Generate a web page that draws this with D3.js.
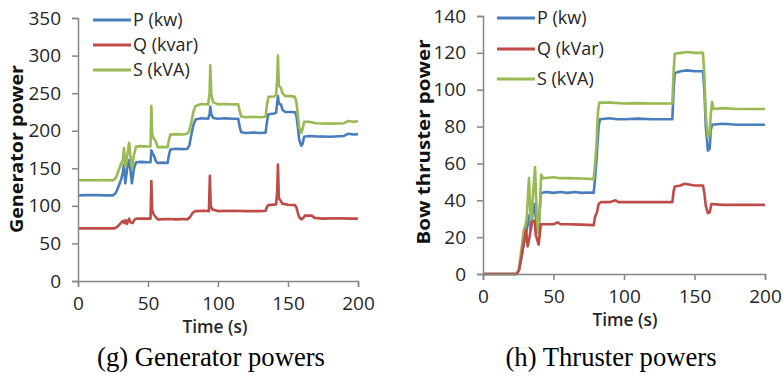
<!DOCTYPE html>
<html><head><meta charset="utf-8">
<script src="https://cdn.jsdelivr.net/npm/d3@7"></script>
<style>
html,body{margin:0;padding:0;background:#fff;}
svg{display:block;}
</style></head>
<body>
<svg id="c" width="783" height="377"></svg>
<script>
// ---------- DATA ----------
const xTicks = [0, 50, 100, 150, 200];
const genYTicks = [0, 50, 100, 150, 200, 250, 300, 350];
const thrYTicks = [0, 20, 40, 60, 80, 100, 120, 140];
const genLegend = ["P (kw)", "Q (kvar)", "S (kVA)"];
const thrLegend = ["P (kw)", "Q (kVar)", "S (kVA)"];

// [time (s), value]
const genP = [[0,114],[10,114.5],[20,114],[25,114],[27,117],[29,126],[31,136],[32,145],[32.8,155],[33.8,130],[35,148],[36.5,161],[37.5,148],[38.5,130],[40,150],[41.5,158],[45,158.5],[50,158],[51.8,158],[52.4,174],[53.2,170],[54.5,166],[55.5,160],[57,157],[60,157.5],[64,157],[65,168],[66,175],[70,176],[75,175.5],[78,176],[79.5,180],[81,195],[82.5,208],[84,215],[88,216.5],[93,216],[94,222],[94.5,232],[95.2,222],[96.5,217],[100,216],[105,216.5],[110,216],[114.5,216],[115.5,205],[116.5,198],[120,197],[125,197.5],[130,197],[134,197.5],[135,212],[136,222],[140,223],[141.5,224],[142.3,238],[142.8,246],[143.5,236],[145,235],[146,228],[148,225],[152,225],[155,224.5],[156,220],[157,205],[158,188],[159.5,180],[160.5,183],[161.5,192],[165,193],[170,192.5],[180,192],[190,193],[193,196],[197,195],[200,195.5]];
const genQ = [[0,70],[10,70],[20,70],[26,70],[28,72],[30,76],[32,80],[33,77],[34,81],[35,76],[36.5,83],[37.5,78],[39,77],[40.5,82],[42,83],[50,83],[51.8,83],[52.4,133],[53,95],[54,89],[55.5,85],[57,82],[65,82.5],[70,82],[75,82.5],[78,82],[80,85],[82,91],[84,93],[90,93.5],[93.5,93],[94.2,140],[94.8,100],[96,95],[100,93],[110,93.5],[120,93],[130,93],[134,93.5],[135,99],[136,101],[141.5,102],[142.3,120],[142.8,155],[143.5,110],[145,106],[146,103],[150,101.5],[155,101],[156,98],[157,91],[158,85],[159.5,82],[161,84],[162,87],[167,87],[169,84],[175,83],[185,83.5],[195,83],[200,83]];
const genS = [[0,134],[10,134],[20,134.5],[25,134],[27,137],[29,147],[31,157],[32,160],[32.8,177],[33.8,153],[35,165],[36.5,184],[37.5,165],[38.5,150],[40,168],[41.5,179],[45,179.5],[50,179],[51.8,179],[52.4,233],[53,195],[54,190],[55.5,186],[57,178],[60,178.5],[64,178],[65,188],[66,195],[70,195.5],[75,195],[78,196],[79.5,200],[81,212],[82.5,226],[84,233],[88,235.5],[93,235],[94,250],[94.5,287],[95.2,248],[96.5,238],[100,235],[105,235.5],[110,235],[114.5,235],[115.5,226],[116.5,219],[120,218],[125,218.5],[130,218],[134,218.5],[135,235],[136,245],[140,245.5],[141.5,248],[142.3,270],[142.8,300],[143.5,260],[145,257],[146,250],[148,246],[152,246],[155,245],[156,238],[157,222],[158,204],[159.5,197],[160.5,203],[161.5,212],[165,212],[170,210],[180,209.5],[190,210],[193,213],[197,212],[200,212.5]];

const thrP = [[0,0],[10,0],[20,0],[23.9,0],[25.5,2],[27,8],[29,17],[30.5,22],[32,28],[33,32],[34,24],[35.5,36],[36.5,38],[37.5,30],[39.5,24],[41,44],[45,44.5],[50,44],[55,44.5],[60,44],[65,44.5],[70,44],[75,44.2],[78.5,44],[79.5,52],[80.5,62],[81,68],[82,80],[83,84],[90,84.5],[95,84],[100,84],[110,84.3],[120,84],[130,84],[134.3,84],[135.2,100],[136,109],[140,110],[145,110.5],[150,110],[156,110],[157,100],[158,80],[159.5,67],[160.8,68],[161.5,78],[162.5,81],[170,81.5],[180,81],[190,81],[200,81]];
const thrQ = [[0,0],[20,0],[23.9,0],[25.5,2],[27,8],[29,17],[30.5,24],[31.7,15],[33,20],[34.5,28],[36.5,29],[37.5,21],[39.5,16],[41,27],[45,27],[50,27],[53,28],[55,27],[60,27],[70,26.8],[78.5,26.5],[79.5,31],[81,34],[82,38],[83.5,39],[90,39],[94,40],[96,39],[110,39],[120,39],[134.3,39],[135.2,45],[136,47.5],[140,48],[143,49],[150,48],[156,48],[157,44],[158,37],[159.5,33],[160.8,33.5],[162,38],[170,37.5],[180,37.5],[190,37.5],[200,37.5]];
const thrS = [[0,0],[20,0],[23.9,0],[25.5,3],[27,12],[29,24],[30,26],[31,30],[32.6,52],[34,27],[35.2,40],[36.9,58],[38.5,24],[39.6,22],[40.4,38],[41.3,54],[42.5,52],[50,52.5],[55,52],[60,52],[70,51.8],[78.5,51.5],[79.5,60],[80.5,70],[81.5,88],[82.5,93],[90,93],[100,92.5],[110,92.7],[120,92.5],[134.3,92.5],[135.2,110],[136,119.5],[140,120],[145,120.5],[150,120],[156,120],[157,108],[158,86],[159.5,74],[160.8,76],[161.5,86],[162.5,93.5],[163.5,89.5],[170,90],[180,89.5],[190,89.5],[200,89.5]];

// ---------- STYLE ----------
const COLORS = ["#4A7EBB", "#BE4B48", "#98B954"];
const AXIS = "#868686";
const TICKFONT = "'Open Sans', 'Noto Sans', sans-serif";

const svg = d3.select("#c");

function panel(cfg) {
  const g = svg.append("g");
  const x = d3.scaleLinear().domain([0, 200]).range([cfg.x0, cfg.x1]);
  const y = d3.scaleLinear().domain([0, cfg.ymax]).range([cfg.y0, cfg.y1]);

  // series
  const line = d3.line().x(d => x(d[0])).y(d => y(d[1]));
  const order = [0, 2, 1]; // draw P, S, Q
  order.forEach(i => {
    g.append("path").datum(cfg.series[i])
      .attr("fill", "none").attr("stroke", COLORS[i])
      .attr("stroke-width", 2.6).attr("stroke-linejoin", "round")
      .attr("d", line);
  });

  // axes
  const xa = g.append("g").attr("transform", `translate(0,${cfg.y0})`)
    .call(d3.axisBottom(x).tickValues(xTicks).tickSize(6).tickPadding(10));
  const ya = g.append("g").attr("transform", `translate(${cfg.x0},0)`)
    .call(d3.axisLeft(y).tickValues(cfg.yticks).tickSize(6).tickPadding(11));
  [xa, ya].forEach(a => {
    a.select(".domain").attr("stroke", AXIS).attr("stroke-width", 1.5);
    a.selectAll(".tick line").attr("stroke", AXIS).attr("stroke-width", 1.5);
    a.selectAll(".tick text").attr("font-family", TICKFONT).attr("font-size", 19).attr("fill", "#262626");
  });
  xa.selectAll(".tick text").attr("dy", "0.71em");

  // legend
  cfg.legend.forEach((name, i) => {
    const ly = cfg.legY[i];
    g.append("line").attr("x1", cfg.legX).attr("x2", cfg.legX + 38)
      .attr("y1", ly).attr("y2", ly).attr("stroke", COLORS[i]).attr("stroke-width", 3);
    g.append("text").attr("x", cfg.legX + 40).attr("y", ly).attr("dy", "0.35em")
      .attr("font-family", TICKFONT).attr("font-size", 18).attr("fill", "#262626")
      .text(name);
  });

  // axis titles
  g.append("text").attr("transform", `translate(${cfg.ytX},${cfg.ytY}) rotate(-90)`)
    .attr("text-anchor", "middle").attr("dy", "0.35em")
    .attr("font-family", TICKFONT).attr("font-weight", "bold").attr("font-size", 18)
    .attr("fill", "#111").attr("textLength", cfg.ytLen).attr("lengthAdjust", "spacingAndGlyphs")
    .text(cfg.ytitle);
  g.append("text").attr("x", cfg.xtX).attr("y", cfg.xtY)
    .attr("text-anchor", "middle").attr("dy", "0.35em")
    .attr("font-family", TICKFONT).attr("font-weight", 600).attr("font-size", 18)
    .attr("fill", "#262626").attr("textLength", 65).attr("lengthAdjust", "spacingAndGlyphs")
    .text("Time (s)");
  // caption
  g.append("text").attr("x", cfg.capX).attr("y", 366)
    .attr("text-anchor", "middle")
    .attr("font-family", "'Liberation Serif', 'Times New Roman', serif").attr("font-size", 26.5)
    .attr("fill", "#000").attr("textLength", cfg.capLen).attr("lengthAdjust", "spacingAndGlyphs")
    .text(cfg.caption);
}

panel({
  x0: 78, x1: 358, y0: 281, y1: 18, ymax: 350, yticks: genYTicks,
  series: [genP, genQ, genS], legend: genLegend,
  legX: 93, legY: [20, 45, 70],
  ytitle: "Generator power", ytX: 17, ytY: 149, ytLen: 168,
  xtX: 215, xtY: 327,
  caption: "(g) Generator powers", capX: 211, capLen: 228
});
panel({
  x0: 483, x1: 765, y0: 274, y1: 16, ymax: 140, yticks: thrYTicks,
  series: [thrP, thrQ, thrS], legend: thrLegend,
  legX: 497, legY: [18, 49, 79],
  ytitle: "Bow thruster power", ytX: 424, ytY: 142, ytLen: 205,
  xtX: 625, xtY: 320,
  caption: "(h) Thruster powers", capX: 611, capLen: 211
});
</script>
</body></html>
